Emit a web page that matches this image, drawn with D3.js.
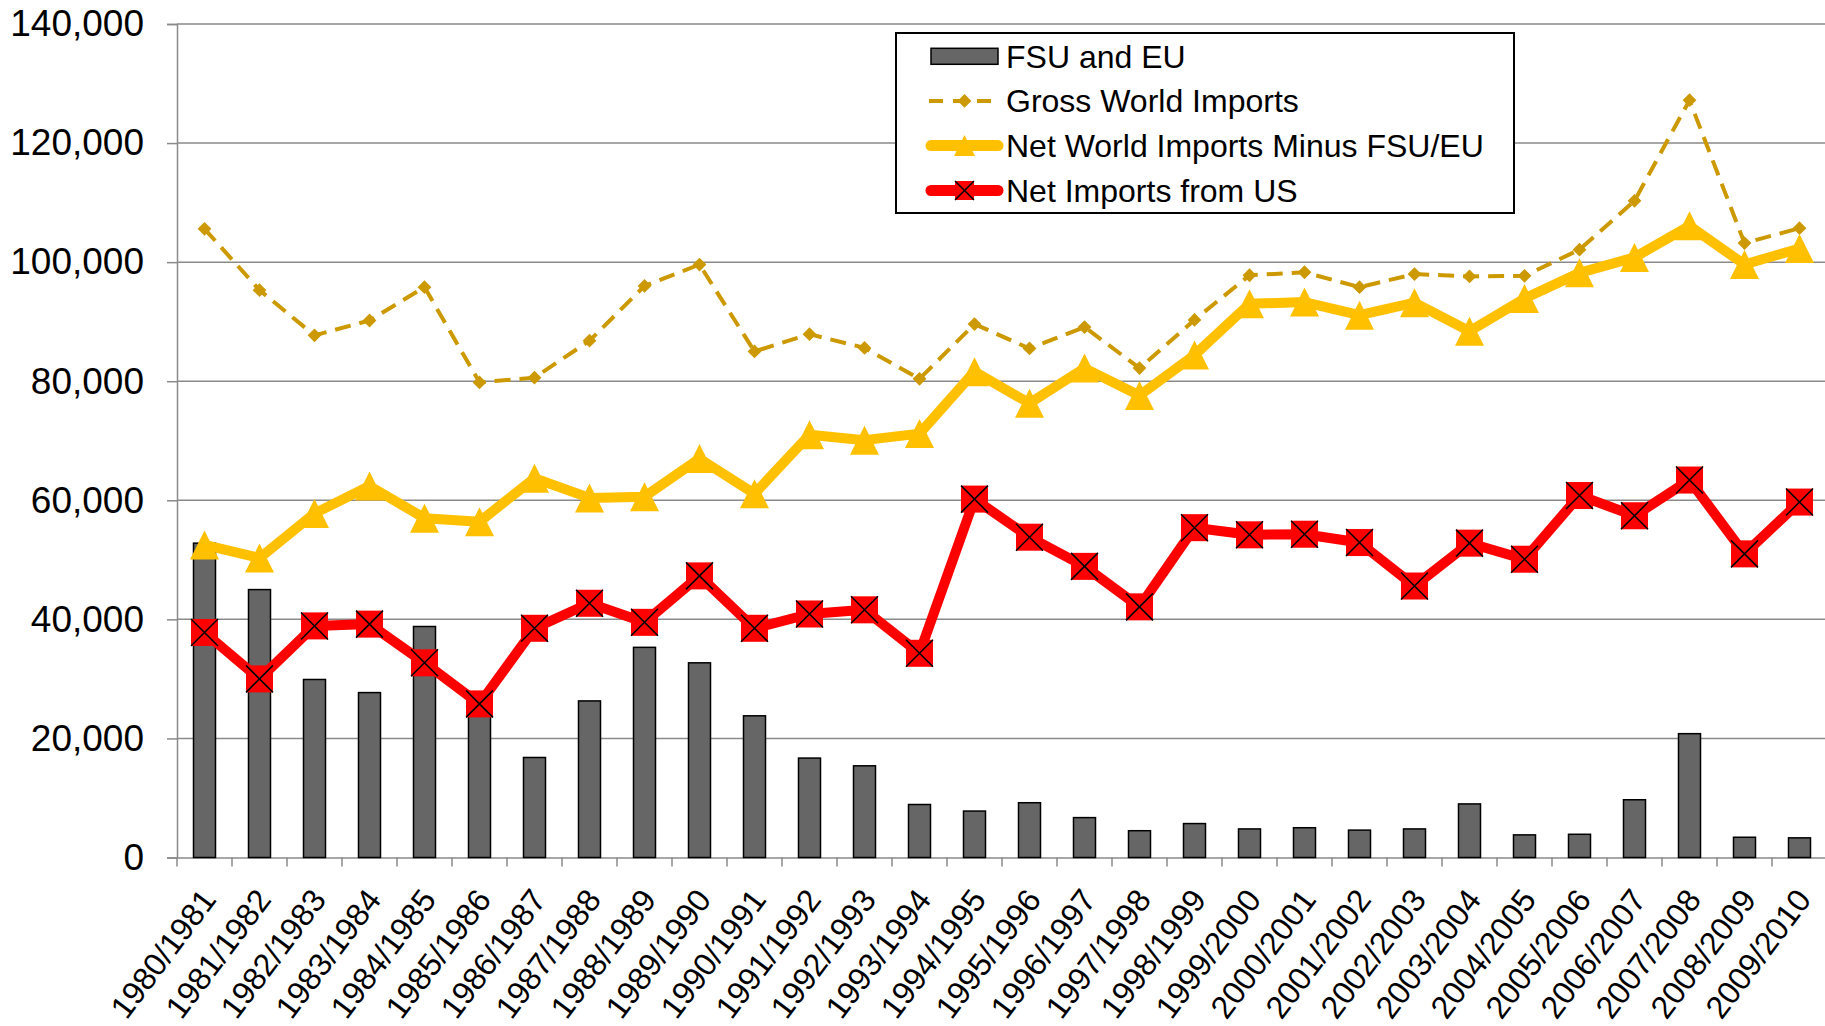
<!DOCTYPE html>
<html>
<head>
<meta charset="utf-8">
<script src="https://cdn.jsdelivr.net/npm/d3@7"></script>
<style>
    body { margin: 0; background: #fff; }
    text { font-family: "Liberation Sans", Arial, sans-serif; fill: #000; }
</style>
</head>
<body>
<div id="viz"></div>
<script>

    // data
    var years = ['1980/1981', '1981/1982', '1982/1983', '1983/1984', '1984/1985', '1985/1986',
        '1986/1987', '1987/1988', '1988/1989', '1989/1990', '1990/1991', '1991/1992',
        '1992/1993', '1993/1994', '1994/1995', '1995/1996', '1996/1997', '1997/1998',
        '1998/1999', '1999/2000', '2000/2001', '2001/2002', '2002/2003', '2003/2004',
        '2004/2005', '2005/2006', '2006/2007', '2007/2008', '2008/2009', '2009/2010'];

    var fsuEu = [52800, 45000, 29900, 27700, 38800, 24500, 16800, 26300, 35300, 32700,
        23800, 16700, 15400, 8900, 7800, 9200, 6700, 4500, 5700, 4800,
        5000, 4600, 4800, 9000, 3800, 3900, 9700, 20800, 3400, 3300];

    var grossWorld = [105600, 95300, 87700, 90200, 95800, 79800, 80600, 86800, 96000, 99600,
        85000, 87900, 85600, 80400, 89600, 85500, 89100, 82200, 90300, 97800,
        98300, 95800, 98000, 97600, 97700, 102100, 110300, 127200, 103200, 105700];

    var netWorld = [52500, 50300, 57800, 62400, 57000, 56400, 63700, 60400, 60600, 67000,
        61100, 71000, 70100, 71200, 81600, 76300, 82200, 77600, 84400, 93000,
        93300, 91100, 93200, 88400, 93900, 98200, 100800, 106100, 99600, 102300];

    var netUS = [37800, 30000, 38900, 39200, 32700, 25800, 38500, 42700, 39500, 47300,
        38500, 40900, 41600, 34300, 60200, 53800, 48900, 42100, 55400, 54200,
        54300, 52900, 45600, 52800, 50100, 60800, 57400, 63400, 51000, 59700];

    var yTicks = [0, 20000, 40000, 60000, 80000, 100000, 120000, 140000];

    var legendNames = ['FSU and EU', 'Gross World Imports', 'Net World Imports Minus FSU/EU', 'Net Imports from US'];

    //Width and height
    var width = 1825;
    var height = 1026;

    // plot area ("top" is taken by window.top, so prefixed names)
    var plotLeft = 177;
    var plotTop = 24;
    var plotBottom = 857.5;
    var band = 55;

    var gridColor = '#8a8a8a';
    var gold = '#cc9900';
    var yellow = '#ffc000';
    var red = '#ff0000';
    var barColor = '#666666';

    var svg = d3.select('#viz')
                .append('svg')
                .attr('width', width)
                .attr('height', height);

    var xScale = d3.scaleBand()
                    .domain(years)
                    .range([plotLeft, plotLeft + band * years.length])
                    .paddingInner(0)
                    .paddingOuter(0);

    var yScale = d3.scaleLinear()
                    .domain([0, 140000])
                    .range([plotBottom, plotTop]);

    var cx = function(i) { return xScale(years[i]) + xScale.bandwidth() / 2; };

    // gridlines
    svg.append('g')
        .selectAll('line')
        .data(yTicks.slice(1))
        .enter()
        .append('line')
        .attr('x1', plotLeft)
        .attr('x2', width)
        .attr('y1', (d) => yScale(d))
        .attr('y2', (d) => yScale(d))
        .attr('stroke', gridColor)
        .attr('stroke-width', 1.5);

    // y axis
    var yAxis = d3.axisLeft(yScale)
                  .tickValues(yTicks)
                  .tickSize(10)
                  .tickPadding(23)
                  .tickFormat(d3.format(','));

    var yAxisG = svg.append('g')
        .attr('transform', 'translate(' + plotLeft + ',0)')
        .call(yAxis);

    yAxisG.select('.domain').attr('stroke', gridColor).attr('stroke-width', 1.5);
    yAxisG.selectAll('.tick line').attr('stroke', gridColor).attr('stroke-width', 1.5);
    yAxisG.selectAll('.tick text')
        .style('font-size', '37px')
        .style('font-family', '"Liberation Sans", Arial, sans-serif')
        .attr('fill', '#000');

    // x axis
    var xAxis = d3.axisBottom(xScale).tickSize(0).tickFormat('');
    var xAxisG = svg.append('g')
        .attr('transform', 'translate(0,' + plotBottom + ')')
        .call(xAxis);
    xAxisG.select('.domain').attr('stroke', gridColor).attr('stroke-width', 1.5);

    // ticks between categories
    svg.append('g')
        .selectAll('line')
        .data(years)
        .enter()
        .append('line')
        .attr('x1', (d) => xScale(d))
        .attr('x2', (d) => xScale(d))
        .attr('y1', plotBottom)
        .attr('y2', plotBottom + 9)
        .attr('stroke', gridColor)
        .attr('stroke-width', 1.5);

    // slanted category labels, steeper than 45
    svg.append('g')
        .selectAll('text')
        .data(years)
        .enter()
        .append('text')
        .attr('transform', (d, i) => 'translate(' + (cx(i) + 13) + ',' + 900 + ') rotate(-53)')
        .attr('text-anchor', 'end')
        .style('font-size', '32px')
        .text((d) => d);

    // bars
    var barW = 22;
    svg.append('g')
        .selectAll('rect')
        .data(fsuEu)
        .enter()
        .append('rect')
        .attr('x', (d, i) => cx(i) - barW / 2)
        .attr('y', (d) => yScale(d))
        .attr('width', barW)
        .attr('height', (d) => plotBottom - yScale(d))
        .attr('fill', barColor)
        .attr('stroke', '#000')
        .attr('stroke-width', 1.5);

    var line = d3.line()
        .x((d, i) => cx(i))
        .y((d) => yScale(d));

    // gross world imports, dashed
    svg.append('path')
        .datum(grossWorld)
        .attr('d', line)
        .attr('fill', 'none')
        .attr('stroke', gold)
        .attr('stroke-width', 4)
        .attr('stroke-dasharray', '16,9');

    var diamond = d3.symbol().type(d3.symbolSquare).size(95);
    svg.append('g')
        .selectAll('path')
        .data(grossWorld)
        .enter()
        .append('path')
        .attr('d', diamond)
        .attr('transform', (d, i) => 'translate(' + cx(i) + ',' + yScale(d) + ') rotate(45)')
        .attr('fill', gold);

    // net world minus fsu/eu
    svg.append('path')
        .datum(netWorld)
        .attr('d', line)
        .attr('fill', 'none')
        .attr('stroke', yellow)
        .attr('stroke-width', 10)
        .attr('stroke-linejoin', 'round');

    var tri = function(s) {
        var h = s;
        return 'M0,' + (-h / 2) + 'L' + (s / 2) + ',' + (h / 2) + 'L' + (-s / 2) + ',' + (h / 2) + 'Z';
    };

    svg.append('g')
        .selectAll('path')
        .data(netWorld)
        .enter()
        .append('path')
        .attr('d', tri(29))
        .attr('transform', (d, i) => 'translate(' + cx(i) + ',' + yScale(d) + ')')
        .attr('fill', yellow);

    // net imports from US
    svg.append('path')
        .datum(netUS)
        .attr('d', line)
        .attr('fill', 'none')
        .attr('stroke', red)
        .attr('stroke-width', 10)
        .attr('stroke-linejoin', 'round');

    var xMark = function(g, s) {
        g.append('rect')
            .attr('x', -s / 2)
            .attr('y', -s / 2)
            .attr('width', s)
            .attr('height', s)
            .attr('fill', red);
        g.append('path')
            .attr('d', 'M' + (-s / 2) + ',' + (-s / 2) + 'L' + (s / 2) + ',' + (s / 2)
                + 'M' + (s / 2) + ',' + (-s / 2) + 'L' + (-s / 2) + ',' + (s / 2))
            .attr('stroke', '#000')
            .attr('stroke-width', 1.5);
    };

    svg.append('g')
        .selectAll('g')
        .data(netUS)
        .enter()
        .append('g')
        .attr('transform', (d, i) => 'translate(' + cx(i) + ',' + yScale(d) + ')')
        .each(function() { xMark(d3.select(this), 27); });

    // legend
    var legend = svg.append('g');

    legend.append('rect')
        .attr('x', 896)
        .attr('y', 33)
        .attr('width', 618)
        .attr('height', 180)
        .attr('fill', '#fff')
        .attr('stroke', '#000')
        .attr('stroke-width', 2);

    var rowY = [56.3, 100.9, 145.6, 190.5];
    var symX = 964.5;

    legend.append('rect')
        .attr('x', 931)
        .attr('y', rowY[0] - 8)
        .attr('width', 67)
        .attr('height', 16)
        .attr('fill', barColor)
        .attr('stroke', '#000')
        .attr('stroke-width', 1.5);

    legend.append('line')
        .attr('x1', 929).attr('x2', 1000)
        .attr('y1', rowY[1]).attr('y2', rowY[1])
        .attr('stroke', gold)
        .attr('stroke-width', 4)
        .attr('stroke-dasharray', '14,10');
    legend.append('path')
        .attr('d', diamond)
        .attr('transform', 'translate(' + symX + ',' + rowY[1] + ') rotate(45)')
        .attr('fill', gold);

    legend.append('line')
        .attr('x1', 931).attr('x2', 998)
        .attr('y1', rowY[2]).attr('y2', rowY[2])
        .attr('stroke', yellow)
        .attr('stroke-width', 11)
        .attr('stroke-linecap', 'round');
    legend.append('path')
        .attr('d', tri(21))
        .attr('transform', 'translate(' + symX + ',' + rowY[2] + ')')
        .attr('fill', yellow);

    legend.append('line')
        .attr('x1', 931).attr('x2', 998)
        .attr('y1', rowY[3]).attr('y2', rowY[3])
        .attr('stroke', red)
        .attr('stroke-width', 11)
        .attr('stroke-linecap', 'round');
    xMark(legend.append('g').attr('transform', 'translate(' + symX + ',' + rowY[3] + ')'), 19);

    legend.selectAll('.ltext')
        .data(legendNames)
        .enter()
        .append('text')
        .attr('class', 'ltext')
        .attr('x', 1006)
        .attr('y', (d, i) => rowY[i])
        .attr('dy', '0.36em')
        .style('font-size', '32px')
        .text((d) => d);

</script>
</body>
</html>
